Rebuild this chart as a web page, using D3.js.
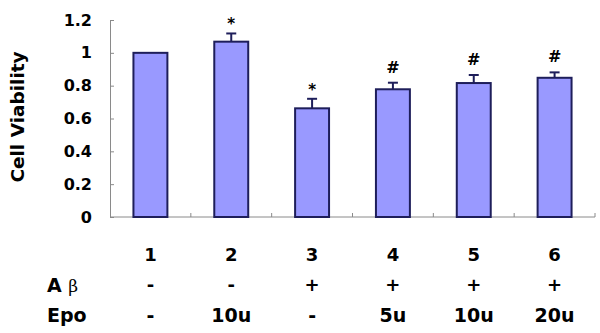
<!DOCTYPE html>
<html><head><meta charset="utf-8">
<script src="https://cdn.jsdelivr.net/npm/d3@7"></script>
<style>body{margin:0;background:#fff}svg{display:block}text{font-family:"DejaVu Sans",Arial,sans-serif}</style>
</head><body><svg id="c" width="600" height="333"></svg>
<script>
const categories = ["1","2","3","4","5","6"];
const values = [1.0, 1.068, 0.662, 0.778, 0.816, 0.848];
const errors = [0, 0.05, 0.058, 0.04, 0.049, 0.033];
const marks = ["", "*", "*", "#", "#", "#"];
const abRow = ["-","-","+","+","+","+"];
const epoRow = ["-","10u","-","5u","10u","20u"];
const yTicks = [0,0.2,0.4,0.6,0.8,1,1.2];

const svg = d3.select("#c");
const x = d3.scaleBand().domain(categories).range([110,595]).padding(0);
const y = d3.scaleLinear().domain([0,1.2]).range([217,20]);
const bw = x.bandwidth()*0.42;
const axisCol = "#8a8a8a";
const barStroke = "#1e1e5a";

// y axis
const ya = svg.append("g").attr("transform","translate(110,0)")
  .call(d3.axisLeft(y).tickValues(yTicks).tickSizeInner(-4).tickSizeOuter(0).tickFormat(d=>String(d)).tickPadding(18));
ya.select(".domain").attr("stroke",axisCol);
ya.selectAll(".tick line").attr("stroke",axisCol);
ya.selectAll(".tick text").attr("font-size",16).attr("font-weight","bold").attr("fill","#000")
  .attr("font-family","'DejaVu Sans',sans-serif");

// x axis with boundary ticks
const xa = svg.append("g").attr("transform","translate(0,217)");
xa.append("line").attr("x1",110).attr("x2",595).attr("stroke",axisCol);
const bounds = categories.map(c=>x(c)+x.bandwidth());
xa.selectAll("line.t").data(bounds).join("line").attr("class","t")
  .attr("x1",d=>d).attr("x2",d=>d).attr("y1",0).attr("y2",-4).attr("stroke",axisCol);

// bars
const cx = c => x(c)+x.bandwidth()/2;
svg.selectAll("rect.bar").data(categories).join("rect").attr("class","bar")
  .attr("x",(c)=>cx(c)-bw/2).attr("width",bw)
  .attr("y",(c,i)=>y(values[i])).attr("height",(c,i)=>y(0)-y(values[i]))
  .attr("fill","#9999ff").attr("stroke",barStroke).attr("stroke-width",2);

// error bars (upper only)
categories.forEach((c,i)=>{
  if(!errors[i]) return;
  const t = y(values[i]+errors[i]);
  svg.append("line").attr("x1",cx(c)).attr("x2",cx(c)).attr("y1",y(values[i])).attr("y2",t).attr("stroke",barStroke).attr("stroke-width",2);
  svg.append("line").attr("x1",cx(c)-5).attr("x2",cx(c)+5).attr("y1",t).attr("y2",t).attr("stroke",barStroke).attr("stroke-width",2);
});

// significance marks
categories.forEach((c,i)=>{
  if(!marks[i]) return;
  const t = y(values[i]+errors[i]);
  const star = marks[i]==="*";
  svg.append("text").attr("x",cx(c)).attr("y", star ? t-4 : t-10)
    .attr("text-anchor","middle").attr("font-weight","bold")
    .attr("font-size", star?15:16).text(marks[i]);
});

// y title
svg.append("text").attr("transform","translate(24,117) rotate(-90)")
  .attr("text-anchor","middle").attr("font-size",18.5).attr("font-weight","bold").text("Cell Viability");

// table
const rowY = [255,285,315];
const fs = 18;
svg.selectAll("text.n").data(categories).join("text").attr("class","n")
  .attr("x",cx).attr("y",rowY[0]).attr("dy","0.36em").attr("text-anchor","middle")
  .attr("font-size",fs).attr("font-weight","bold").text(d=>d);
svg.selectAll("text.ab").data(abRow).join("text").attr("class","ab")
  .attr("x",(d,i)=>cx(categories[i])).attr("y",rowY[1]).attr("dy","0.36em").attr("text-anchor","middle")
  .attr("font-size",fs).attr("font-weight","bold").text(d=>d);
svg.selectAll("text.ep").data(epoRow).join("text").attr("class","ep")
  .attr("x",(d,i)=>cx(categories[i])).attr("y",rowY[2]).attr("dy","0.36em").attr("text-anchor","middle")
  .attr("font-size",fs+1).attr("font-weight","bold").text(d=>d);
const ab = svg.append("text").attr("x",47).attr("y",rowY[1]).attr("dy","0.36em").attr("font-size",fs+1);
ab.append("tspan").attr("font-weight","bold").text("A ");
ab.append("tspan").attr("font-family","'DejaVu Serif',serif").attr("font-size",17).text("β");
svg.append("text").attr("x",47).attr("y",rowY[2]).attr("dy","0.36em").attr("font-size",fs+1).attr("font-weight","bold").text("Epo");
</script></body></html>
